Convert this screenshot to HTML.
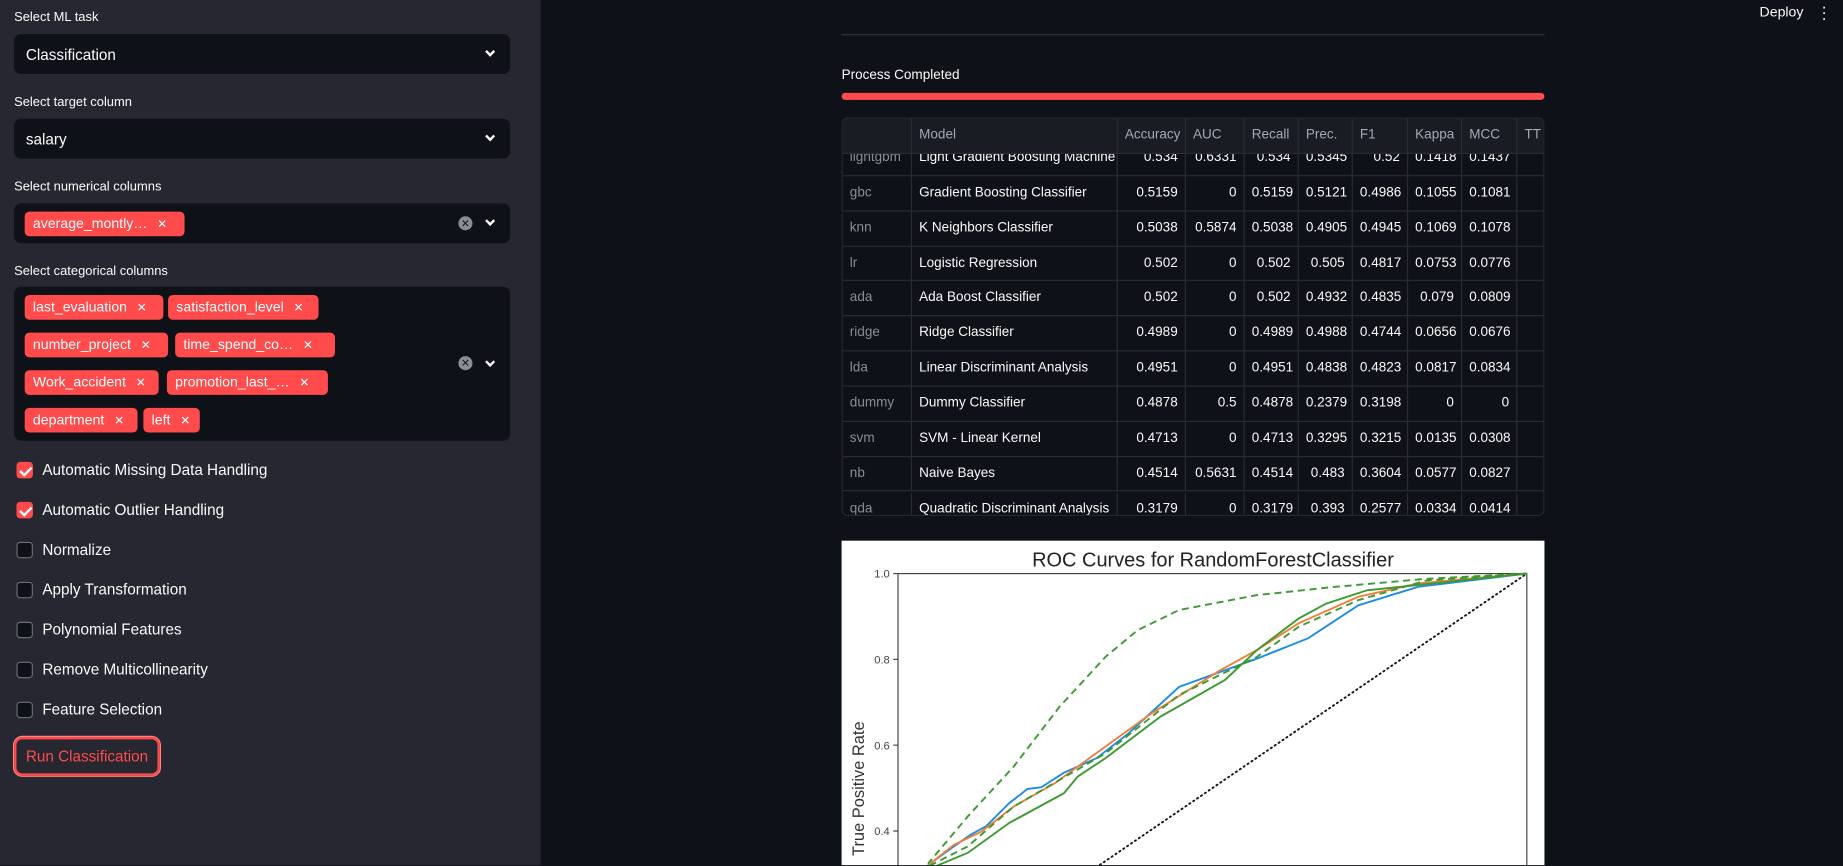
<!DOCTYPE html>
<html><head><meta charset="utf-8"><style>
*{box-sizing:border-box;margin:0;padding:0}
html,body{width:1843px;height:866px;overflow:hidden;background:#0e1117}
#root{position:absolute;left:0;top:0;width:1568px;height:736px;overflow:hidden;transform:scale(1.17538);transform-origin:0 0;font-family:"Liberation Sans",sans-serif;color:#fafafa}
.sidebar{position:absolute;left:0;top:0;width:460px;height:737px;background:#262730}
.lbl{position:absolute;left:12px;font-size:11px;color:#fafafa}
.sel{position:absolute;left:12px;width:422px;background:#0e1117;border-radius:6px}
.sel .v{position:absolute;left:10px;font-size:13px}
.chev{position:absolute;right:14px;width:6px;height:6px;border-right:2px solid #fafafa;border-bottom:2px solid #fafafa;transform:rotate(45deg)}
.clr{position:absolute;right:32px;width:12px;height:12px;border-radius:50%;background:#8b8d94;color:#0e1117;font-size:9px;line-height:12px;text-align:center}
.tag{position:absolute;height:21px;background:#ff4b4b;border-radius:4px;font-size:12px;line-height:21px;padding-left:7px;color:#fff;white-space:nowrap;overflow:hidden}
.tag span{font-size:10px;margin-left:5px}
.cb{position:absolute;left:14px;width:14px;height:14px;border-radius:3px;border:1px solid #6b6d76;background:#0e1117}
.cb.on{background:#ff4b4b;border-color:#ff4b4b}
.cb.on:after{content:"";position:absolute;left:4px;top:1px;width:4px;height:8px;border-right:2px solid #fff;border-bottom:2px solid #fff;transform:rotate(45deg)}
.cbl{position:absolute;left:36px;font-size:13px}
.tbl{position:absolute;left:716px;top:100px;width:598px;height:339px;overflow:hidden;border:1px solid #262730;border-radius:5px;font-family:"Liberation Sans Narrow","Liberation Sans",sans-serif;font-size:11.5px}
.row{position:absolute;left:0;width:700px;height:29.85px;border-bottom:1px solid #2b2d36}
.c{position:absolute;top:0;height:100%;border-right:1px solid #2b2d36;line-height:29px;padding:0 6px;white-space:nowrap;overflow:hidden}
.hdr{background:#1a1c24;color:#a3a8b4;z-index:2;top:0 !important;height:30px}
</style></head><body>
<div id="root">
<div class="sidebar">
 <div class="lbl" style="top:9px">Select ML task</div>
 <div class="sel" style="top:29px;height:34px"><div class="v" style="top:10px">Classification</div><div class="chev" style="top:12px"></div></div>
 <div class="lbl" style="top:81px">Select target column</div>
 <div class="sel" style="top:101px;height:34px"><div class="v" style="top:10px">salary</div><div class="chev" style="top:12px"></div></div>
 <div class="lbl" style="top:153px">Select numerical columns</div>
 <div class="sel" style="top:173px;height:34px">
  <div class="tag" style="left:9px;top:7px;width:136px">average_montly… <span>✕</span></div>
  <div class="clr" style="top:11px">✕</div><div class="chev" style="top:12px"></div></div>
 <div class="lbl" style="top:225px">Select categorical columns</div>
 <div class="sel" style="top:244px;height:131px">
  <div class="tag" style="left:9px;top:7px;width:118px">last_evaluation <span>✕</span></div>
  <div class="tag" style="left:131px;top:7px;width:128px">satisfaction_level <span>✕</span></div>
  <div class="tag" style="left:9px;top:39px;width:122px">number_project <span>✕</span></div>
  <div class="tag" style="left:137px;top:39px;width:136px">time_spend_co… <span>✕</span></div>
  <div class="tag" style="left:9px;top:71px;width:114px">Work_accident <span>✕</span></div>
  <div class="tag" style="left:130px;top:71px;width:137px">promotion_last_… <span>✕</span></div>
  <div class="tag" style="left:9px;top:103px;width:96px">department <span>✕</span></div>
  <div class="tag" style="left:110px;top:103px;width:48px">left <span>✕</span></div>
  <div class="clr" style="top:59px">✕</div><div class="chev" style="top:61px"></div></div>
 <div class="cb on" style="top:393px"></div><div class="cbl" style="top:392px">Automatic Missing Data Handling</div>
 <div class="cb on" style="top:427px"></div><div class="cbl" style="top:426px">Automatic Outlier Handling</div>
 <div class="cb" style="top:461px"></div><div class="cbl" style="top:460px">Normalize</div>
 <div class="cb" style="top:495px"></div><div class="cbl" style="top:494px">Apply Transformation</div>
 <div class="cb" style="top:529px"></div><div class="cbl" style="top:528px">Polynomial Features</div>
 <div class="cb" style="top:563px"></div><div class="cbl" style="top:562px">Remove Multicollinearity</div>
 <div class="cb" style="top:597px"></div><div class="cbl" style="top:596px">Feature Selection</div>
 <div style="position:absolute;left:12px;top:627px;width:124px;height:33px;border:2px solid #ff4b4b;border-radius:7px;box-shadow:0 0 0 1px #ff8080;color:#ff4b4b;font-size:13px;line-height:29px;text-align:center">Run Classification</div>
</div>
<div style="position:absolute;left:1497px;top:3px;font-size:12px">Deploy</div>
<div style="position:absolute;left:1549px;top:3px;font-size:14px;line-height:5px;width:6px;text-align:center">·<br>·<br>·</div>
<div style="position:absolute;left:716px;top:29px;width:598px;height:1px;background:#31333f"></div>
<div style="position:absolute;left:716px;top:58px;font-size:11.5px">Process Completed</div>
<div style="position:absolute;left:716px;top:79px;width:598px;height:6px;border-radius:3px;background:#ff4b4b"></div>
<div class="tbl" id="tbl"></div>
<div style="position:absolute;left:716px;top:460px;width:598px;height:277px;background:#fff;overflow:hidden">
<svg id="roc" width="598" height="277" style="position:absolute;left:0;top:0;overflow:hidden"></svg>
</div>
</div>
<script>
const cols=["","Model","Accuracy","AUC","Recall","Prec.","F1","Kappa","MCC","TT (Sec)"];
const colX=[0,59,234,292,342,388,434,481,527,574,640];
const ids=["lightgbm","gbc","knn","lr","ada","ridge","lda","dummy","svm","nb","qda"];
const models=["Light Gradient Boosting Machine","Gradient Boosting Classifier","K Neighbors Classifier","Logistic Regression","Ada Boost Classifier","Ridge Classifier","Linear Discriminant Analysis","Dummy Classifier","SVM - Linear Kernel","Naive Bayes","Quadratic Discriminant Analysis"];
const vals=[
["0.534","0.6331","0.534","0.5345","0.52","0.1418","0.1437","0.08"],
["0.5159","0","0.5159","0.5121","0.4986","0.1055","0.1081","0.08"],
["0.5038","0.5874","0.5038","0.4905","0.4945","0.1069","0.1078","0.08"],
["0.502","0","0.502","0.505","0.4817","0.0753","0.0776","0.08"],
["0.502","0","0.502","0.4932","0.4835","0.079","0.0809","0.08"],
["0.4989","0","0.4989","0.4988","0.4744","0.0656","0.0676","0.08"],
["0.4951","0","0.4951","0.4838","0.4823","0.0817","0.0834","0.08"],
["0.4878","0.5","0.4878","0.2379","0.3198","0","0",""],
["0.4713","0","0.4713","0.3295","0.3215","0.0135","0.0308","0.08"],
["0.4514","0.5631","0.4514","0.483","0.3604","0.0577","0.0827","0.08"],
["0.3179","0","0.3179","0.393","0.2577","0.0334","0.0414","0.08"]];
const tbl=document.getElementById('tbl');
function mkRow(top,cells,isHdr){
 const r=document.createElement('div');r.className='row'+(isHdr?' hdr':'');r.style.top=top+'px';
 cells.forEach((t,j)=>{const c=document.createElement('div');c.className='c';
  c.style.left=colX[j]+'px';c.style.width=(colX[j+1]-colX[j])+'px';c.textContent=t;
  if(!isHdr){ if(j===0)c.style.color='#8b8d94'; if(j>1)c.style.textAlign='right'; }
  r.appendChild(c);});
 tbl.appendChild(r);return r;}
const h=mkRow(0,cols,true);


ids.forEach((id,i)=>{const r=mkRow(19+i*29.85,[id,models[i]].concat(vals[i]),false);
 
 });

// ROC chart data
const yTicks=[0.4,0.6,0.8,1.0];
const blueFpr=[0,0.053,0.089,0.115,0.14,0.177,0.206,0.228,0.264,0.316,0.367,0.447,0.571,0.652,0.732,0.827,1];
const blueTpr=[0,0.326,0.364,0.391,0.411,0.465,0.498,0.502,0.536,0.57,0.628,0.736,0.802,0.849,0.926,0.969,1];
const orangeFpr=[0,0.053,0.089,0.133,0.184,0.25,0.33,0.403,0.454,0.513,0.571,0.637,0.732,0.827,1];
const orangeTpr=[0,0.326,0.368,0.399,0.457,0.512,0.597,0.674,0.721,0.775,0.822,0.884,0.946,0.977,1];
const greenFpr=[0,0.06,0.111,0.177,0.206,0.264,0.286,0.33,0.418,0.52,0.571,0.637,0.681,0.746,1];
const greenTpr=[0,0.318,0.349,0.419,0.442,0.488,0.527,0.57,0.667,0.752,0.822,0.895,0.93,0.961,1];
const microFpr=[0,0.049,0.111,0.184,0.257,0.33,0.381,0.447,0.571,0.695,0.841,1];
const microTpr=[0,0.326,0.434,0.55,0.69,0.806,0.868,0.915,0.95,0.969,0.988,1];
const macroFpr=[0,0.049,0.111,0.184,0.33,0.447,0.571,0.637,0.732,0.841,1];
const macroTpr=[0,0.318,0.364,0.457,0.581,0.717,0.806,0.876,0.938,0.984,1];
const chanceFpr=[0,1];
const chanceTpr=[0,1];
const X0=48,X1=583,YT=28,YB=393;
const sx=v=>X0+v*(X1-X0), sy=v=>YB-v*(YB-YT);
const svg=document.getElementById('roc');const NS='http://www.w3.org/2000/svg';
function el(t,a,txt){const e=document.createElementNS(NS,t);for(const k in a)e.setAttribute(k,a[k]);if(txt!==undefined)e.textContent=txt;svg.appendChild(e);return e;}
const t=el('text',{x:316,y:22,'text-anchor':'middle','font-size':'17','font-family':'Liberation Sans Narrow, Liberation Sans, sans-serif',fill:'#222'},'ROC Curves for RandomForestClassifier');


const ax=el('rect',{x:X0,y:YT,width:X1-X0,height:YB-YT,fill:'none',stroke:'#444','stroke-width':1});


yTicks.forEach(v=>{el('line',{x1:X0-4,x2:X0,y1:sy(v),y2:sy(v),stroke:'#444'});
 const l=el('text',{x:X0-7,y:sy(v)+3.5,'text-anchor':'end','font-size':'9.5','font-family':'Liberation Sans Narrow, Liberation Sans, sans-serif',fill:'#444'},v.toFixed(1));
 
 });
const yt=el('text',{x:0,y:0,transform:'translate(19,211) rotate(-90)','text-anchor':'middle','font-size':'14',fill:'#333'},'True Positive Rate');


function line(fx,ty,color,dash,w,name){const d=fx.map((f,i)=>(i?'L':'M')+sx(f).toFixed(1)+','+sy(ty[i]).toFixed(1)).join('');
 const p=el('path',{d:d,fill:'none',stroke:color,'stroke-width':w,'stroke-dasharray':dash||'none','stroke-linecap':dash==='1 3'?'round':'butt'});
 
 }
line(chanceFpr,chanceTpr,'#111','1 3',1.6,'chance-line');
line(blueFpr,blueTpr,'#1a8be3',null,1.6,'roc-class-0');
line(orangeFpr,orangeTpr,'#f27d36',null,1.6,'roc-class-1');
line(greenFpr,greenTpr,'#3a9a2e',null,1.6,'roc-class-2');
line(macroFpr,macroTpr,'#3a9a2e','6 4',1.6,'roc-macro-average');
line(microFpr,microTpr,'#3a9a2e','6 4',1.6,'roc-micro-average');
</script>
</body></html>
